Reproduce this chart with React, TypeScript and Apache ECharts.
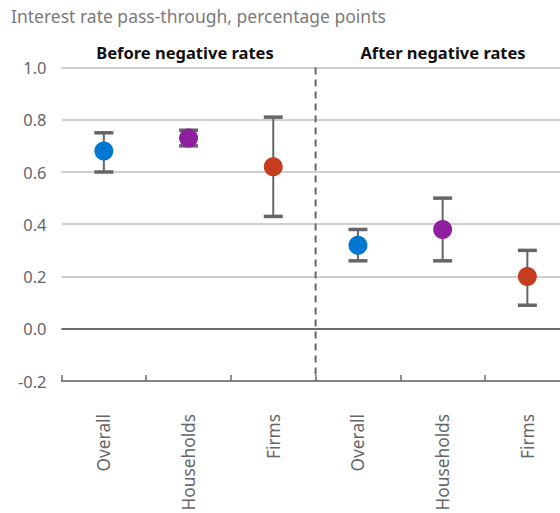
import React, { useEffect, useRef } from "react";
import * as echarts from "echarts";

const categories = ["Overall", "Households", "Firms", "Overall", "Households", "Firms"];
const pointValues = [0.68, 0.73, 0.62, 0.32, 0.38, 0.2];
const lowValues = [0.6, 0.7, 0.43, 0.26, 0.26, 0.09];
const highValues = [0.75, 0.76, 0.81, 0.38, 0.5, 0.3];
const pointColors = ["#0078D0", "#8E1F9E", "#C63C1E", "#0078D0", "#8E1F9E", "#C63C1E"];
const groupLabels = ["Before negative rates", "After negative rates"];
const titleText = "Interest rate pass-through, percentage points";
const yMin = -0.2;
const yMax = 1.0;

const FONT = "'Noto Sans', 'Open Sans', sans-serif";

export default function App() {
  const ref = useRef<HTMLDivElement>(null);
  useEffect(() => {
    if (!ref.current) return;
    const chart = echarts.init(ref.current, undefined, { renderer: "svg" });
    const option: any = {
      animation: false,
      textStyle: { fontFamily: FONT },
      grid: { left: 61.5, right: 2.3, top: 67.5, bottom: 132, containLabel: false, outerBoundsMode: "none" },
      graphic: [
        {
          type: "text",
          left: 11,
          top: 7,
          style: { text: titleText, fill: "#7a7a7a", font: `17.5px ${FONT}` },
        },
        {
          type: "text",
          x: 185,
          y: 52,
          style: {
            text: groupLabels[0],
            fill: "#111",
            font: `bold 16.5px ${FONT}`,
            textAlign: "center",
            textVerticalAlign: "middle",
          },
        },
        {
          type: "text",
          x: 443,
          y: 52,
          style: {
            text: groupLabels[1],
            fill: "#111",
            font: `bold 16.5px ${FONT}`,
            textAlign: "center",
            textVerticalAlign: "middle",
          },
        },
      ],
      xAxis: {
        type: "category",
        data: categories,
        boundaryGap: true,
        axisLine: { show: true, onZero: false, lineStyle: { color: "#6b6b6b", width: 1.5 } },
        axisTick: { show: true, inside: true, length: 6, interval: 0, lineStyle: { color: "#6b6b6b", width: 1.5 } },
        axisLabel: {
          interval: 0,
          rotate: 90,
          margin: 33,
          color: "#666",
          fontSize: 17.3,
          fontFamily: FONT,
        },
        splitLine: { show: false },
      },
      yAxis: {
        type: "value",
        min: yMin,
        max: yMax,
        interval: 0.2,
        axisLine: { show: false },
        axisTick: { show: false },
        axisLabel: {
          margin: 15,
          color: "#666",
          fontSize: 16.5,
          fontFamily: FONT,
          formatter: (v: number) => v.toFixed(1),
        },
        splitLine: { show: true, lineStyle: { color: "#cfcfcf", width: 2 } },
      },
      series: [
        {
          type: "custom",
          z: 1,
          silent: true,
          data: [[2, 3]],
          renderItem: (params: any, api: any) => {
            const a = api.coord([api.value(0), yMax]);
            const b = api.coord([api.value(1), yMin]);
            const x = (a[0] + b[0]) / 2;
            return {
              type: "line",
              shape: { x1: x, y1: a[1], x2: x, y2: b[1] },
              style: { stroke: "#666", lineWidth: 2, lineDash: [7, 5] },
            };
          },
        },
        {
          type: "custom",
          z: 2,
          data: categories.map((_, i) => [i, lowValues[i], highValues[i]]),
          renderItem: (params: any, api: any) => {
            const x = api.value(0);
            const top = api.coord([x, api.value(2)]);
            const bot = api.coord([x, api.value(1)]);
            const hw = 9.5;
            const st = { stroke: "#666", lineWidth: 2 };
            const cap = { stroke: "#666", lineWidth: 3.5 };
            return {
              type: "group",
              children: [
                { type: "line", shape: { x1: top[0], y1: top[1], x2: bot[0], y2: bot[1] }, style: st },
                { type: "line", shape: { x1: top[0] - hw, y1: top[1], x2: top[0] + hw, y2: top[1] }, style: cap },
                { type: "line", shape: { x1: bot[0] - hw, y1: bot[1], x2: bot[0] + hw, y2: bot[1] }, style: cap },
              ],
            };
          },
        },
        {
          type: "scatter",
          z: 3,
          symbolSize: 19,
          data: pointValues.map((v, i) => ({ value: v, itemStyle: { color: pointColors[i], opacity: 1 } })),
          markLine: {
            silent: true,
            symbol: "none",
            label: { show: false },
            lineStyle: { color: "#6b6b6b", width: 2, type: "solid" },
            data: [{ yAxis: 0 }],
          },
        },
      ],
    };
    chart.setOption(option);
    return () => chart.dispose();
  }, []);
  return (
    <div style={{ position: "absolute", left: 0, top: 0, width: 560, height: 513, overflow: "hidden", background: "#fff" }}>
      <div ref={ref} style={{ width: 572, height: 513 }} />
    </div>
  );
}
